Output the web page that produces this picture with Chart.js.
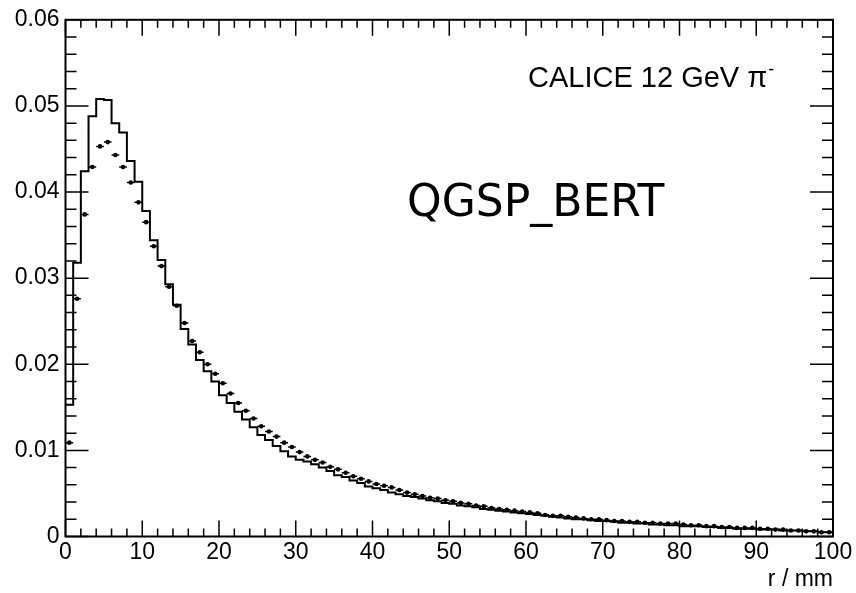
<!DOCTYPE html>
<html lang="en">
<head>
<meta charset="UTF-8">
<title>CALICE 12 GeV pi- radial shower profile</title>
<script src="https://cdn.jsdelivr.net/npm/chart.js@4.4.1/dist/chart.umd.min.js"></script>
<style>
  html, body { margin: 0; padding: 0; background: #fff; }
</style>
</head>
<body>
<canvas id="myChart" width="856" height="593"></canvas>
<script>
// Radial profile, 1 mm bins from 0 to 100 mm
const binWidth = 1;

// QGSP_BERT simulation (histogram line)
const simValues = [
  0.0153, 0.0318, 0.0424, 0.0488, 0.0508, 0.0507, 0.0480, 0.0469, 0.0436, 0.0412,
  0.0378, 0.0344, 0.0321, 0.0293, 0.0269, 0.0241, 0.0223, 0.0205, 0.0192, 0.0180,
  0.0164, 0.0155, 0.0145, 0.0136, 0.0127, 0.0118, 0.0112, 0.0105, 0.0099, 0.0093,
  0.0089, 0.0087, 0.0084, 0.0080, 0.0076, 0.0071, 0.0069, 0.0065, 0.0062, 0.0058,
  0.0056, 0.0054, 0.0051, 0.0049, 0.0047, 0.0046, 0.0044, 0.0042, 0.0041, 0.0039,
  0.0038, 0.0036, 0.0035, 0.0034, 0.0032, 0.0031, 0.0030, 0.0029, 0.0028, 0.0027,
  0.0026, 0.0025, 0.0024, 0.0023, 0.0022, 0.0021, 0.0020, 0.0020, 0.0019, 0.0018,
  0.0018, 0.0017, 0.0016, 0.0016, 0.0015, 0.0015, 0.0014, 0.0014, 0.0013, 0.0013,
  0.0012, 0.0012, 0.0012, 0.0011, 0.0011, 0.0010, 0.0010, 0.0009, 0.0009, 0.0009,
  0.0008, 0.0008, 0.0008, 0.0007, 0.0007, 0.0007, 0.0006, 0.0006, 0.0005, 0.0005
];

// CALICE data (points)
const dataValues = [
  0.0109, 0.0276, 0.0374, 0.0429, 0.0453, 0.0458, 0.0443, 0.0429, 0.0411, 0.0388,
  0.0365, 0.0337, 0.0314, 0.0290, 0.0268, 0.0248, 0.0227, 0.0214, 0.0200, 0.0189,
  0.0178, 0.0166, 0.0155, 0.0146, 0.0137, 0.0128, 0.0122, 0.0116, 0.0109, 0.0104,
  0.0098, 0.0093, 0.0089, 0.0086, 0.0081, 0.0078, 0.0074, 0.0070, 0.0067, 0.0064,
  0.0061, 0.0059, 0.0057, 0.0054, 0.0051, 0.0049, 0.0047, 0.0045, 0.0044, 0.0042,
  0.0041, 0.0039, 0.0038, 0.0036, 0.0035, 0.0033, 0.0032, 0.0031, 0.0030, 0.0029,
  0.0028, 0.0027, 0.0025, 0.0024, 0.0024, 0.0023, 0.0022, 0.0021, 0.0020, 0.0020,
  0.0019, 0.0018, 0.0018, 0.0017, 0.0017, 0.0016, 0.0016, 0.0015, 0.0015, 0.0015,
  0.0014, 0.0013, 0.0013, 0.0012, 0.0012, 0.0011, 0.0011, 0.0010, 0.0010, 0.0010,
  0.0009, 0.0009, 0.0008, 0.0008, 0.0007, 0.0007, 0.0006, 0.0006, 0.0005, 0.0005
];

const xTickLabels = ['0', '10', '20', '30', '40', '50', '60', '70', '80', '90', '100'];
const yTickLabels = ['0', '0.01', '0.02', '0.03', '0.04', '0.05', '0.06'];

// histogram: one point per lower bin edge, plus the closing edge
const histPoints = simValues.map((v, i) => ({ x: i * binWidth, y: v }));
histPoints.push({ x: simValues.length * binWidth, y: simValues[simValues.length - 1] });

// data: points at bin centres
const dataPoints = dataValues.map((v, i) => ({ x: (i + 0.5) * binWidth, y: v }));

const tickFont = { family: "'Liberation Sans', Arial, sans-serif", size: 23 };

// ROOT style frame with ticks drawn inside on all four sides
const rootFrame = {
  id: 'rootFrame',
  afterDraw(chart) {
    const { ctx, chartArea: a, scales: { x, y } } = chart;
    ctx.save();
    ctx.strokeStyle = '#000';
    ctx.lineWidth = 1.5;
    ctx.beginPath();
    for (let k = 0; k <= 50; k++) {
      const px = x.getPixelForValue(k * 2);
      const len = k % 5 === 0 ? 16 : 8;
      ctx.moveTo(px, a.bottom); ctx.lineTo(px, a.bottom - len);
      ctx.moveTo(px, a.top); ctx.lineTo(px, a.top + len);
    }
    for (let k = 0; k <= 30; k++) {
      const py = y.getPixelForValue(k * 0.002);
      const len = k % 5 === 0 ? 23 : 11;
      ctx.moveTo(a.left, py); ctx.lineTo(a.left + len, py);
      ctx.moveTo(a.right, py); ctx.lineTo(a.right - len, py);
    }
    ctx.stroke();
    ctx.lineWidth = 2;
    ctx.strokeRect(a.left, a.top, a.right - a.left, a.bottom - a.top);

    ctx.fillStyle = '#000';
    ctx.textBaseline = 'alphabetic';
    ctx.textAlign = 'left';
    ctx.font = "29px 'Liberation Sans', Arial, sans-serif";
    const label = 'CALICE 12 GeV \u03c0';
    ctx.fillText(label, 528, 87);
    const w = ctx.measureText(label).width;
    ctx.font = "18px 'Liberation Sans', Arial, sans-serif";
    ctx.fillText('-', 528 + w + 1, 75);

    ctx.font = "44px 'DejaVu Sans', sans-serif";
    ctx.fillText('QGSP_BERT', 407, 216);
    ctx.restore();
  }
};

const ctx = document.getElementById('myChart').getContext('2d');
const chart = new Chart(ctx, {
  data: {
    datasets: [
      {
        type: 'line',
        label: 'QGSP_BERT',
        data: histPoints,
        stepped: 'before',
        borderColor: '#000',
        borderWidth: 2,
        pointRadius: 0,
        fill: false
      },
      {
        type: 'scatter',
        label: 'data x-error',
        data: dataPoints,
        pointStyle: 'line',
        pointRadius: binWidth * 3.84,
        borderColor: '#000',
        borderWidth: 1.5
      },
      {
        type: 'scatter',
        label: 'CALICE data',
        data: dataPoints,
        pointStyle: 'circle',
        pointRadius: 2.3,
        borderWidth: 0,
        backgroundColor: '#000'
      }
    ]
  },
  options: {
    responsive: false,
    animation: false,
    devicePixelRatio: 1,
    layout: { padding: { left: 0, right: 23, top: 15, bottom: 0 } },
    plugins: {
      legend: { display: false },
      tooltip: { enabled: false }
    },
    scales: {
      x: {
        type: 'linear',
        position: 'bottom',
        min: 0,
        max: 100,
        grid: { display: false, drawTicks: false },
        border: { display: false },
        ticks: {
          stepSize: 10,
          autoSkip: false,
          maxRotation: 0,
          padding: 2,
          color: '#000',
          font: tickFont,
          callback: (v, i) => xTickLabels[i]
        },
        title: {
          display: true,
          text: 'r / mm',
          align: 'end',
          color: '#000',
          font: tickFont,
          padding: { top: 0, bottom: 0 }
        },
        afterFit: s => { s.height = 56.5; }
      },
      y: {
        type: 'linear',
        min: 0,
        max: 0.06,
        grid: { display: false, drawTicks: false },
        border: { display: false },
        ticks: {
          stepSize: 0.01,
          autoSkip: false,
          padding: 6,
          color: '#000',
          font: tickFont,
          callback: (v, i) => yTickLabels[i]
        },
        afterFit: s => { s.width = 65.5; }
      }
    }
  },
  plugins: [rootFrame]
});
</script>
</body>
</html>
